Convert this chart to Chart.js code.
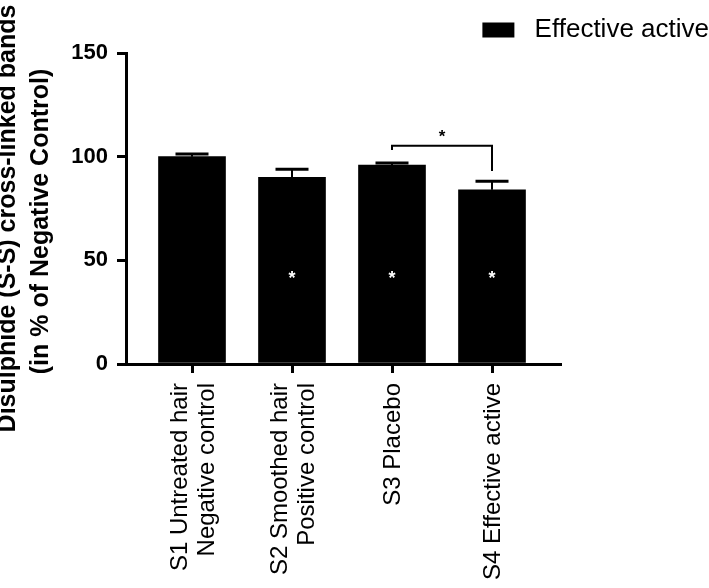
<!DOCTYPE html>
<html>
<head>
<meta charset="utf-8">
<script src="https://cdn.jsdelivr.net/npm/chart.js@4.4.1/dist/chart.umd.min.js"></script>
<style>
  html, body { margin: 0; padding: 0; background: #fff; }
  canvas { display: block; }
</style>
</head>
<body>
<canvas id="myChart" width="709" height="588"></canvas>
<script>
const categories = [
    ['S1 Untreated hair', 'Negative control'],
    ['S2 Smoothed hair', 'Positive control'],
    ['S3 Placebo'],
    ['S4 Effective active']
];
const means = [100, 90, 96, 84];
const errors = [1.3, 3.9, 0.9, 4.2];
const barStars = ['', '*', '*', '*'];
const starLevel = 43;
const bracketPair = [2, 3];
const bracketEnds = [103.2, 93.1];
const bracketTop = 105.3;
const bracketLabel = '*';
const yTicks = [0, 50, 100, 150];
const yTitle = ['Disulphide (S-S) cross-linked bands', '(in % of Negative Control)'];

const FONT = 'Arial, "Liberation Sans", Helvetica, sans-serif';

function rotatedText(ctx, text, x, y) {
    ctx.save();
    ctx.translate(x, y);
    ctx.rotate(-Math.PI / 2);
    ctx.fillText(text, 0, 0);
    ctx.restore();
}

// error bars, significance stars and the bracket between S3 and S4
const annotations = {
    id: 'annotations',
    afterDatasetsDraw(chart) {
        const { ctx, scales: { x, y } } = chart;
        ctx.save();
        ctx.strokeStyle = '#000';
        means.forEach((m, i) => {
            const px = x.getPixelForValue(i);
            const base = y.getPixelForValue(m);
            const top = y.getPixelForValue(m + errors[i]);
            ctx.lineWidth = 2;
            ctx.beginPath();
            ctx.moveTo(px, base);
            ctx.lineTo(px, top);
            ctx.stroke();
            ctx.lineWidth = 3;
            ctx.beginPath();
            ctx.moveTo(px - 16.5, top);
            ctx.lineTo(px + 16.5, top);
            ctx.stroke();
            if (barStars[i]) {
                ctx.fillStyle = '#fff';
                ctx.font = 'bold 18px ' + FONT;
                ctx.textAlign = 'center';
                ctx.textBaseline = 'middle';
                ctx.fillText(barStars[i], px, y.getPixelForValue(starLevel) + 4);
            }
        });

        const x1 = x.getPixelForValue(bracketPair[0]);
        const x2 = x.getPixelForValue(bracketPair[1]);
        const yt = y.getPixelForValue(bracketTop);
        ctx.lineWidth = 2;
        ctx.beginPath();
        ctx.moveTo(x1, y.getPixelForValue(bracketEnds[0]));
        ctx.lineTo(x1, yt);
        ctx.lineTo(x2, yt);
        ctx.lineTo(x2, y.getPixelForValue(bracketEnds[1]));
        ctx.stroke();
        ctx.fillStyle = '#000';
        ctx.font = 'bold 17px ' + FONT;
        ctx.textAlign = 'center';
        ctx.textBaseline = 'middle';
        ctx.fillText(bracketLabel, (x1 + x2) / 2, yt - 8);
        ctx.restore();
    },
    // category labels (line groups centred on the tick) and the axis title
    afterDraw(chart) {
        const { ctx, scales: { x, y } } = chart;
        ctx.save();
        ctx.fillStyle = '#000';
        ctx.textBaseline = 'middle';
        ctx.textAlign = 'right';
        ctx.font = '24px ' + FONT;
        const lineH = 27;
        const labelTop = x.top + 19;
        categories.forEach((lines, i) => {
            const px = x.getPixelForValue(i) + 1.5;
            lines.forEach((line, j) => {
                rotatedText(ctx, line, px + (j - (lines.length - 1) / 2) * lineH, labelTop);
            });
        });

        ctx.textAlign = 'center';
        ctx.font = 'bold 25px ' + FONT;
        const midY = (y.top + y.bottom) / 2 + 11;
        rotatedText(ctx, yTitle[0], 8.5, midY - 1);
        rotatedText(ctx, yTitle[1], 41.5, midY + 2);
        ctx.restore();
    }
};

Chart.defaults.color = '#000';
Chart.defaults.font.family = FONT;

const ctx = document.getElementById('myChart').getContext('2d');
new Chart(ctx, {
    type: 'bar',
    data: {
        datasets: [{
            label: 'Effective active',
            data: means.map((v, i) => ({ x: i, y: v })),
            backgroundColor: '#000',
            borderWidth: 0,
            barThickness: 67
        }]
    },
    options: {
        responsive: false,
        animation: false,
        layout: { padding: { top: 17, left: 0, right: 0, bottom: 0 } },
        plugins: {
            tooltip: { enabled: false },
            legend: {
                position: 'top',
                align: 'end',
                labels: {
                    boxWidth: 32,
                    boxHeight: 15,
                    padding: 0,
                    color: '#000',
                    font: { size: 26, family: FONT },
                    generateLabels: chart => Chart.defaults.plugins.legend.labels.generateLabels(chart)
                        .map(l => Object.assign(l, { text: ' ' + l.text }))
                }
            }
        },
        scales: {
            x: {
                type: 'linear',
                min: -0.66,
                max: 3.68,
                offset: false,
                afterBuildTicks: s => { s.ticks = categories.map((c, i) => ({ value: i })); },
                afterFit: s => { s.height = 224; },
                ticks: { display: false },
                grid: { offset: false, drawOnChartArea: false, tickLength: 9, lineWidth: 3, color: '#000' },
                border: { color: '#000', width: 3 }
            },
            y: {
                min: 0,
                max: 150,
                afterBuildTicks: s => { s.ticks = yTicks.map(v => ({ value: v })); },
                afterFit: s => { s.width = 126; },
                ticks: {
                    padding: 9,
                    color: '#000',
                    font: { size: 22, weight: 'bold', family: FONT }
                },
                grid: { drawOnChartArea: false, tickLength: 9, lineWidth: 3, color: '#000' },
                border: { color: '#000', width: 3 }
            },
            yPad: {
                position: 'right',
                display: true,
                grid: { display: false },
                ticks: { display: false },
                border: { display: false },
                afterFit: s => { s.width = 149; }
            }
        }
    },
    plugins: [annotations]
});
</script>
</body>
</html>
